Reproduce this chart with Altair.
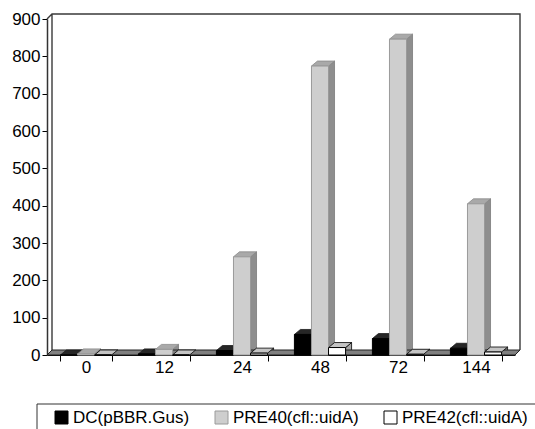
import altair as alt
import pandas as pd

# Sampling times (h) and the three constructs
hours = ["0", "12", "24", "48", "72", "144"]
series = ["DC(pBBR.Gus)", "PRE40(cfl::uidA)", "PRE42(cfl::uidA)"]
dc_values = [0, 3, 12, 55, 44, 18]
pre40_values = [3, 15, 263, 774, 846, 405]
pre42_values = [0, 0, 5, 20, 2, 8]
y_ticks = [0, 100, 200, 300, 400, 500, 600, 700, 800, 900]

rows = []
for name, vals in zip(series, [dc_values, pre40_values, pre42_values]):
    for h, v in zip(hours, vals):
        rows.append({"hour": h, "series": name, "value": v})
df = pd.DataFrame(rows)

W, H = 468, 336          # plot area
DX, DY = 6, 5            # depth of the bars
WALL = 5                 # depth of the back wall / floor
P_IN = 0.344
STEP = W / len(hours)
HALF = STEP * (1 - P_IN) / len(series) / 2   # half width of a single bar

FONT = "Liberation Sans"

x_enc = alt.X("hour:N", sort=hours,
              scale=alt.Scale(paddingInner=P_IN, paddingOuter=P_IN / 2),
              axis=alt.Axis(title=None, tickBand="extent", labelAngle=0,
                            tickSize=6, labelFontSize=17, labelPadding=-2,
                            labelColor="black", domainColor="black",
                            tickColor="black", domainWidth=1))
xo_enc = alt.XOffset("series:N", sort=series,
                     scale=alt.Scale(paddingInner=0, paddingOuter=0))
y_scale = alt.Scale(domain=[0, 900], nice=False)
y_axis = alt.Axis(title=None, values=y_ticks, tickCount=len(y_ticks),
                  labelOverlap=False, tickSize=5, labelFontSize=17,
                  labelPadding=2, labelColor="black",
                  domainColor="#333333", domainWidth=1.5,
                  tickColor="black", grid=False)
y_enc = alt.Y("value:Q", scale=y_scale, axis=y_axis)


def series_scale(colors):
    return alt.Scale(domain=series, range=colors)


base = alt.Chart(df)
one = alt.Chart(pd.DataFrame({"k": [0]}))

# back wall outline and legend frame
wall_path = (f"M0,0L{WALL},{-WALL}L{W + WALL},{-WALL}L{W + WALL},{H - WALL}"
             f"M{WALL},{-WALL}L{WALL},{H - WALL}")
wall = one.mark_point(shape=wall_path, size=4, filled=False, opacity=1,
                      stroke="#3a3a3a", strokeWidth=1.4).encode(
    x=alt.value(0), y=alt.value(0))

legend_box = one.mark_point(shape="M-10,385L900,385M-10,385L-10,600", size=4,
                            filled=False, opacity=1, stroke="#333333",
                            strokeWidth=1).encode(x=alt.value(0), y=alt.value(0))

# right-hand faces of the columns, running down behind the floor
side_path = (f"M{HALF:.2f},0L{HALF + DX:.2f},{-DY}L{HALF + DX:.2f},{H + 20}"
             f"L{HALF:.2f},{H + 20}Z")
sides = base.mark_point(shape=side_path, size=4, filled=True, opacity=1,
                        strokeWidth=0.8, clip=True).encode(
    x=x_enc, xOffset=xo_enc, y=y_enc,
    fill=alt.Fill("series:N", scale=series_scale(["#4a4a4a", "#8e8e8e", "#a8a8a8"]), legend=None),
    stroke=alt.Stroke("series:N", scale=series_scale(["#303030", "#7a7a7a", "#000000"]), legend=None),
)

# floor slab
floor_path = f"M0,0L{W},0L{W + WALL},{-WALL}L{WALL},{-WALL}Z"
floor = one.mark_point(shape=floor_path, size=4, filled=True, opacity=1,
                       fill="#808080", stroke="#222222", strokeWidth=1).encode(
    x=alt.value(0), y=alt.YDatum(0, scale=y_scale, axis=y_axis))

# top faces of the columns
cap_path = (f"M{-HALF:.2f},0L{HALF:.2f},0L{HALF + DX:.2f},{-DY}"
            f"L{-HALF + DX:.2f},{-DY}Z")
caps = base.mark_point(shape=cap_path, size=4, filled=True, opacity=1,
                       strokeWidth=0.8).encode(
    x=x_enc, xOffset=xo_enc, y=y_enc,
    fill=alt.Fill("series:N", scale=series_scale(["#262626", "#a9a9a9", "#c4c4c4"]), legend=None),
    stroke=alt.Stroke("series:N", scale=series_scale(["#1a1a1a", "#8a8a8a", "#000000"]), legend=None),
)

legend_spec = dict(orient="none", legendX=6, legendY=390, direction="horizontal",
                   title=None, symbolType="square", symbolSize=169,
                   labelFontSize=17, labelOffset=3, columnPadding=23,
                   labelColor="black", padding=0, symbolStrokeWidth=1)

# front faces of the columns
fronts = base.mark_bar(strokeWidth=1).encode(
    x=x_enc, xOffset=xo_enc, y=y_enc, y2=alt.datum(0),
    fill=alt.Fill("series:N", scale=series_scale(["#000000", "#cecece", "#ffffff"]),
                  legend=alt.Legend(**legend_spec)),
    stroke=alt.Stroke("series:N", scale=series_scale(["#000000", "#9a9a9a", "#000000"]),
                      legend=alt.Legend(**legend_spec)),
)

chart = alt.layer(wall, legend_box, sides, floor, caps, fronts).resolve_scale(
    fill="independent", stroke="independent"
).properties(
    width=W, height=H,
    autosize=alt.AutoSizeParams(type="none"),
    padding={"left": 47, "top": 19, "right": 20, "bottom": 74},
).configure(font=FONT).configure_view(strokeWidth=0)

chart.save("out.html", embed_options={"renderer": "svg", "actions": False})
